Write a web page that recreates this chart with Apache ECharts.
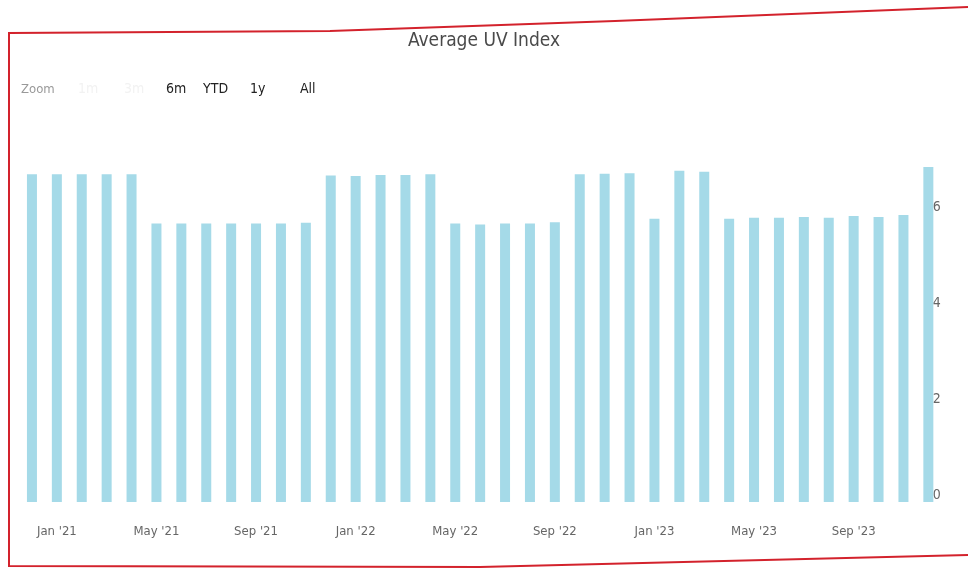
<!DOCTYPE html>
<html>
<head>
<meta charset="utf-8">
<title>Average UV Index</title>
<script src="https://cdn.jsdelivr.net/npm/echarts@6/dist/echarts.min.js"></script>
<style>
    html, body { margin: 0; padding: 0; background: #fff; }
    #chart { width: 968px; height: 570px; }
</style>
</head>
<body>
<div id="chart"></div>
<script>
// 月份（Dec '20 - Dec '23）
const months = [
    "Dec '20", "Jan '21", "Feb '21", "Mar '21", "Apr '21", "May '21", "Jun '21",
    "Jul '21", "Aug '21", "Sep '21", "Oct '21", "Nov '21", "Dec '21", "Jan '22",
    "Feb '22", "Mar '22", "Apr '22", "May '22", "Jun '22", "Jul '22", "Aug '22",
    "Sep '22", "Oct '22", "Nov '22", "Dec '22", "Jan '23", "Feb '23", "Mar '23",
    "Apr '23", "May '23", "Jun '23", "Jul '23", "Aug '23", "Sep '23", "Oct '23",
    "Nov '23", "Dec '23"
];

// 月平均紫外线指数
const uvIndex = [
    6.83, 6.83, 6.83, 6.83, 6.83,
    5.80, 5.80, 5.80, 5.80, 5.80, 5.80, 5.82,
    6.80, 6.79, 6.81, 6.81, 6.83,
    5.80, 5.78, 5.80, 5.80, 5.83,
    6.83, 6.84, 6.85,
    5.90,
    6.90, 6.88,
    5.90, 5.92, 5.92, 5.94, 5.92, 5.96, 5.94, 5.98,
    6.98
];

// 范围选择按钮
const zoomButtons = ['1m', '3m', '6m', 'YTD', '1y', 'All'];
const zoomButtonX = [78, 124, 166, 203, 250, 300];

const font = "'Liberation Sans Narrow', 'DejaVu Sans Condensed', sans-serif";

const chart = echarts.init(document.getElementById('chart'));

// 顶部按钮文字
const buttonTexts = zoomButtons.map((b, i) => ({
    type: 'text',
    left: zoomButtonX[i],
    top: 82,
    style: {
        text: b,
        font: '14px ' + font,
        fill: i < 2 ? '#f2f2f2' : '#222'
    }
}));

chart.setOption({
    backgroundColor: '#fff',
    animation: false,
    title: {
        text: 'Average UV Index',
        left: 'center',
        top: 27,
        textStyle: {
            fontFamily: font,
            fontSize: 19,
            fontWeight: 'normal',
            color: '#4a4a4a'
        }
    },
    grid: {
        left: 19.5,
        right: 27.2,
        top: 142,
        bottom: 68
    },
    xAxis: {
        type: 'category',
        data: months,
        axisLine: { show: false },
        axisTick: { show: false },
        axisLabel: {
            interval: (idx) => idx % 4 === 1,
            margin: 23,
            fontFamily: font,
            fontSize: 13,
            color: '#666'
        }
    },
    yAxis: {
        type: 'value',
        position: 'right',
        offset: -8,
        min: 0,
        max: 7.5,
        interval: 2,
        axisLine: { show: false },
        axisTick: { show: false },
        splitLine: { show: false },
        axisLabel: {
            margin: 0,
            showMaxLabel: false,
            verticalAlign: 'bottom',
            fontFamily: font,
            fontSize: 14,
            color: '#666'
        }
    },
    series: [
        {
            name: 'UV Index',
            type: 'bar',
            data: uvIndex,
            barWidth: 10,
            itemStyle: { color: '#a5dae8' }
        }
    ],
    graphic: [
        // 红色边框（照片略有倾斜）
        {
            type: 'polyline',
            shape: { points: [[968, 7], [615, 21], [330, 31], [9, 33], [9, 566], [480, 567], [968, 555]] },
            style: { stroke: '#d3222c', lineWidth: 2, fill: null }
        },
        {
            type: 'text',
            left: 21,
            top: 83,
            style: { text: 'Zoom', font: '13px ' + font, fill: '#999' }
        },
        ...buttonTexts
    ]
});
</script>
</body>
</html>
